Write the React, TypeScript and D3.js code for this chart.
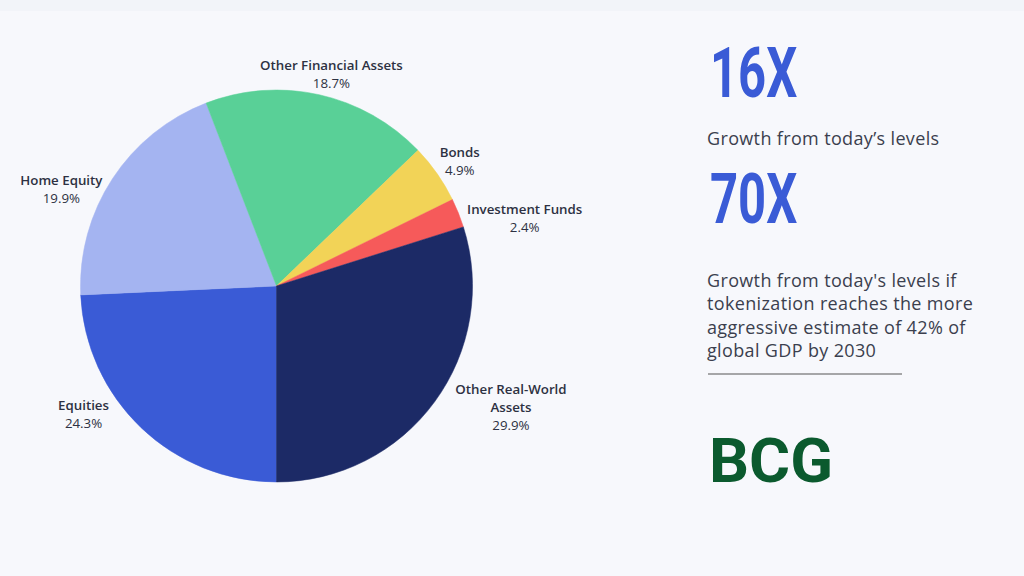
import React, { useEffect, useRef } from "react";
import * as d3 from "d3";

const categories = ["Equities", "Home Equity", "Other Financial Assets", "Bonds", "Investment Funds", "Other Real-World Assets"];
const values = [24.3, 19.9, 18.7, 4.9, 2.4, 29.9];
const labelLines = [["Equities"], ["Home Equity"], ["Other Financial Assets"], ["Bonds"], ["Investment Funds"], ["Other Real-World", "Assets"]];
const colors = ["#3a5bd6", "#a4b4f1", "#59d097", "#f2d357", "#f65a5a", "#1c2a66"];
// label offsets relative to arc-centroid anchor (layout, not data)
const labelOffsets = [[-41, -35], [-31, 19], [7, -1], [3, -3], [44, 10], [57, -22]];

const statValues = ["16X", "70X"];
const statTexts = [
  ["Growth from today\u2019s levels"],
  ["Growth from today's levels if", "tokenization reaches the more", "aggressive estimate of 42% of", "global GDP by 2030"],
];

const W = 1024, H = 576;

export default function App() {
  const ref = useRef<SVGSVGElement>(null);
  useEffect(() => {
    const svg = d3.select(ref.current);
    svg.selectAll("*").remove();
    svg.append("rect").attr("width", W).attr("height", H).attr("fill", "#f7f8fc");
    svg.append("rect").attr("width", W).attr("height", 11).attr("fill", "#f2f4f9");

    const cx = 276.5, cy = 286, r = 196;
    const pie = d3.pie<number>().sort(null).value((d) => d).startAngle(Math.PI).endAngle(3 * Math.PI);
    const arcs = pie(values);
    const arc = d3.arc<d3.PieArcDatum<number>>().innerRadius(0).outerRadius(r);
    const labelArc = d3.arc<d3.PieArcDatum<number>>().innerRadius(220).outerRadius(220);
    const g = svg.append("g").attr("transform", `translate(${cx},${cy})`);
    g.selectAll("path").data(arcs).join("path")
      .attr("d", arc as any)
      .attr("fill", (_d, i) => colors[i])
      .attr("stroke", (_d, i) => colors[i])
      .attr("stroke-width", 0.5);

    const lg = g.selectAll("g.lbl").data(arcs).join("g").attr("class", "lbl")
      .attr("transform", (d, i) => {
        const [x, y] = labelArc.centroid(d);
        return `translate(${x + labelOffsets[i][0]},${y + labelOffsets[i][1]})`;
      });
    lg.each(function (d, i) {
      const gg = d3.select(this);
      const lines = labelLines[i];
      lines.forEach((t, k) => {
        gg.append("text").attr("y", k * 18).attr("text-anchor", "middle")
          .attr("font-family", "'Open Sans', sans-serif").attr("font-weight", 600)
          .attr("font-size", 13.3).attr("fill", "#2d3142").text(t);
      });
      gg.append("text").attr("y", lines.length * 18).attr("text-anchor", "middle")
        .attr("font-family", "'Open Sans', sans-serif").attr("font-weight", 400)
        .attr("font-size", 13.3).attr("fill", "#2d3142").text(d3.format(".1f")(values[i]) + "%");
    });

    // right panel
    const statTop = [97, 223];
    statValues.forEach((s, i) => {
      svg.append("text")
        .attr("transform", `translate(710,${statTop[i]}) scale(0.7,1)`)
        .attr("font-family", "Roboto, sans-serif").attr("font-weight", 700)
        .attr("font-size", 70).attr("fill", "#3a5bd6").text(s);
      const base = i === 0 ? 145 : 287;
      statTexts[i].forEach((t, k) => {
        svg.append("text").attr("x", 707).attr("y", base + k * 23.3)
          .attr("font-family", "'Open Sans', sans-serif").attr("font-size", 18)
          .attr("letter-spacing", 0.35)
          .attr("fill", "#3b3f4e").text(t);
      });
    });
    svg.append("line").attr("x1", 708).attr("x2", 902).attr("y1", 374).attr("y2", 374)
      .attr("stroke", "#555").attr("stroke-width", 1);
    svg.append("text").attr("x", 709).attr("y", 482)
      .attr("font-family", "Roboto, sans-serif").attr("font-weight", 700)
      .attr("font-size", 61).attr("textLength", 124).attr("lengthAdjust", "spacingAndGlyphs")
      .attr("fill", "#0b5a2e").text("BCG");
  }, []);
  return <svg ref={ref} width={W} height={H} style={{ position: "absolute", left: 0, top: 0 }} />;
}
